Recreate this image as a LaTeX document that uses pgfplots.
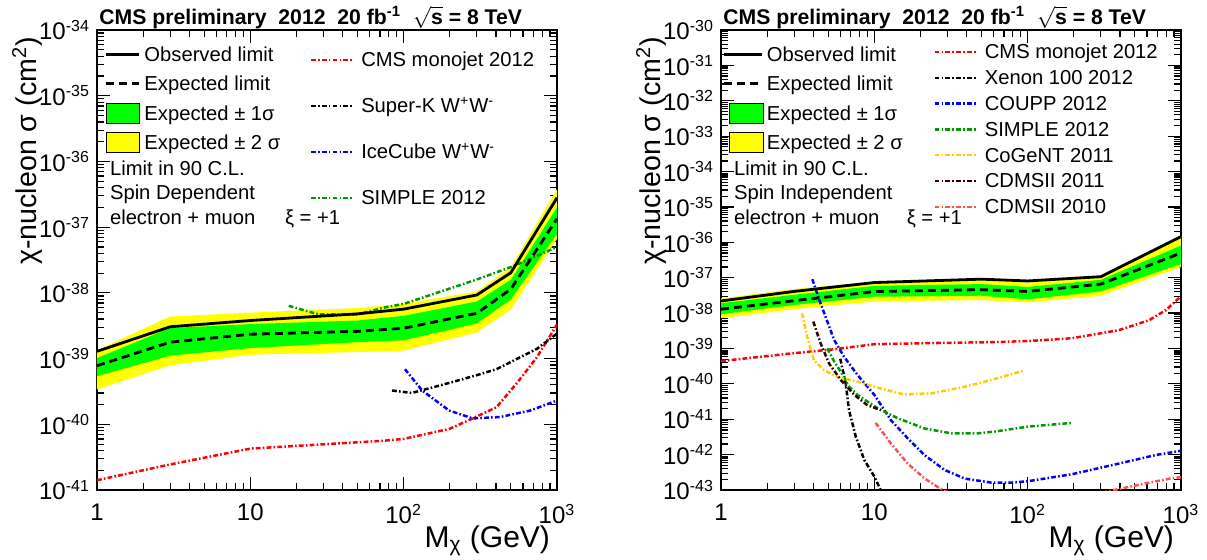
\documentclass[border=0pt]{standalone}
\usepackage{fontspec}
\setmainfont{Liberation Sans}
\usepackage{pgfplots}
\pgfplotsset{compat=1.18}

\definecolor{rootgreen}{RGB}{0,255,0}
\definecolor{rootyellow}{RGB}{255,255,0}
\definecolor{simplegreen}{RGB}{0,153,0}
\definecolor{cogent}{RGB}{255,204,0}
\definecolor{cdmsold}{RGB}{51,0,0}
\definecolor{cdmsnew}{RGB}{255,80,80}

\newcommand{\lfont}{\fontsize{10.1}{11}\selectfont}
\tikzset{dd/.style={line width=1.25pt, dash pattern=on 2.4pt off 1.1pt on 0.8pt off 1.1pt}}
\pgfplotsset{
  lineA/.style={legend image code/.code={\draw[##1] (0pt,3.5pt) -- (16.3pt,3.5pt); \path (18.5pt,0pt);}},
  boxA/.style={legend image code/.code={\draw[##1] (0pt,-1.5pt) rectangle (16.9pt,8.5pt); \path (18.5pt,0pt);}},
  lineB/.style={legend image code/.code={\draw[##1] (0pt,3.5pt) -- (19pt,3.5pt); \path (21pt,0pt);}},
  boxB/.style={legend image code/.code={\draw[##1] (3pt,-1.5pt) rectangle (19.9pt,8.5pt); \path (21pt,0pt);}},
  lineC/.style={legend image code/.code={\draw[##1] (0pt,3.5pt) -- (21pt,3.5pt); \path (24.5pt,0pt);}},
  every axis title/.style={at={(axis description cs:0,1)}, anchor=base west, yshift=3pt, inner sep=1pt,
    font=\bfseries\fontsize{10.6}{12}\selectfont},
}

\begin{document}
\begin{tikzpicture}
\useasboundingbox (0pt,0pt) rectangle (603.5pt,279.5pt);

% ---------------- spin dependent ----------------
\begin{axis}[xmode=log, ymode=log, scale only axis, width=230pt, height=230pt,
  at={(48.5pt,34.5pt)}, anchor=south west,
  xmin=1, xmax=1000, ymin=1e-41, ymax=1e-34,
  xtick={1,10,100,1000},
  xticklabels={1,10,10\textsuperscript{2},10\textsuperscript{3}},
  ytick={1e-41,1e-40,1e-39,1e-38,1e-37,1e-36,1e-35,1e-34},
  yticklabels={10\textsuperscript{-41},10\textsuperscript{-40},10\textsuperscript{-39},10\textsuperscript{-38},
    10\textsuperscript{-37},10\textsuperscript{-36},10\textsuperscript{-35},10\textsuperscript{-34}},
  axis line style={line width=1pt},
  major tick length=6.5pt, minor tick length=3.5pt,
  tick style={black, line width=0.6pt},
  tick label style={font=\fontsize{12}{13}\selectfont},
  xticklabel style={yshift=-3.5pt},
  xlabel={M\textsubscript{χ} (GeV)},
  xlabel style={font=\fontsize{15}{18}\selectfont, at={(axis description cs:1,0)}, anchor=base east, yshift=-28.5pt},
  ylabel={χ-nucleon σ (cm\textsuperscript{2})},
  ylabel style={font=\fontsize{14.3}{17}\selectfont, at={(axis description cs:-0.103,1)}, anchor=south east},
  title={CMS preliminary\ \ 2012\ \ 20 fb\textsuperscript{-1}\ \ $\sqrt{\mbox{s}}$ = 8 TeV},
  legend cell align=left,
  legend style={at={(0.0167,0.968)}, draw=none, fill=none, inner sep=0pt, outer sep=0pt, anchor=north west,
    font=\lfont, row sep=4pt,
    nodes={inner sep=0pt, text height=8.5pt, text depth=2pt, anchor=base west}},
]
% +-2 sigma band (upper edge, then lower edge backwards)
\addplot[fill=rootyellow, draw=none, forget plot] coordinates {(1,1.35e-39) (3,4.37e-39) (10,5.0e-39) (50,5.9e-39) (100,6.8e-39) (300,1.05e-38) (500,2.45e-38) (1000,3.8e-37)
  (1000,6.6e-38) (500,5.6e-39) (300,2.5e-39) (100,1.32e-39) (50,1.26e-39) (10,1.15e-39) (3,7.9e-40) (1,3.4e-40)} -- cycle;
% +-1 sigma band
\addplot[fill=rootgreen, draw=none, forget plot] coordinates {(1,1.02e-39) (3,2.92e-39) (10,3.35e-39) (50,3.8e-39) (100,4.47e-39) (300,7.4e-39) (500,1.58e-38) (1000,2.0e-37)
  (1000,7.9e-38) (500,7.9e-39) (300,3.43e-39) (100,1.9e-39) (50,1.78e-39) (10,1.45e-39) (3,1.11e-39) (1,5.4e-40)} -- cycle;

% CMS monojet 2012
\addplot[red, dd, forget plot] coordinates {(1,1.41e-41) (3,2.45e-41) (10,4.27e-41) (72,5.6e-41) (100,6.0e-41) (198,8.5e-41) (269,1.17e-40) (403,1.82e-40) (546,4.2e-40) (740,1.05e-39) (1000,3.3e-39)};
% Super-K
\addplot[black, dd, forget plot] coordinates {(84,3.27e-40) (113,3.0e-40) (208,4.4e-40) (300,5.6e-40) (403,6.9e-40) (740,1.41e-39) (1000,2.4e-39)};
% IceCube
\addplot[blue, dd, forget plot] coordinates {(102,6.9e-40) (132,3.27e-40) (198,1.62e-40) (282,1.23e-40) (424,1.29e-40) (669,1.62e-40) (1000,2.3e-40)};
% SIMPLE 2012
\addplot[simplegreen, dd, forget plot] coordinates {(17.8,6.35e-39) (28,4.7e-39) (50,4.7e-39) (75,6.0e-39) (100,6.8e-39) (300,1.6e-38) (530,2.6e-38) (1000,5.0e-38)};

\addplot[black, line width=1.4pt, forget plot] coordinates {(1,1.29e-39) (3,3.05e-39) (10,3.8e-39) (50,4.8e-39) (100,5.66e-39) (300,9.3e-39) (500,2.03e-38) (1000,2.8e-37)};
\addplot[black, line width=1.4pt, dash pattern=on 4pt off 2.5pt, forget plot] coordinates {(1,7.8e-40) (3,1.78e-39) (10,2.35e-39) (50,2.6e-39) (100,2.9e-39) (300,4.9e-39) (500,1.14e-38) (1000,1.35e-37)};

\addlegendimage{black, line width=1.4pt, lineA}
\addlegendimage{black, line width=1.4pt, dash pattern=on 4pt off 2.5pt, lineA}
\addlegendimage{fill=rootgreen, draw=black, line width=0.5pt, boxA}
\addlegendimage{fill=rootyellow, draw=black, line width=0.5pt, boxA}
\legend{Observed limit, Expected limit, Expected ± 1σ, Expected ± 2 σ}

\node[anchor=base west, font=\lfont, inner sep=0pt] at (rel axis cs:0.0275,0.683) {Limit in 90 C.L.};
\node[anchor=base west, font=\lfont, inner sep=0pt] at (rel axis cs:0.0275,0.631) {Spin Dependent};
\node[anchor=base west, font=\lfont, inner sep=0pt] at (rel axis cs:0.0275,0.577) {electron + muon};
\node[anchor=base west, font=\lfont, inner sep=0pt] at (rel axis cs:0.408,0.577) {ξ = +1};
\end{axis}

\begin{axis}[scale only axis, width=230pt, height=230pt, at={(48.5pt,34.5pt)}, anchor=south west,
  xmode=log, ymode=log, xmin=1, xmax=1000, ymin=1e-41, ymax=1e-34, hide axis,
  legend cell align=left,
  legend style={at={(0.4625,0.957)}, draw=none, fill=none, inner sep=0pt, outer sep=0pt, anchor=north west,
    font=\lfont, row sep=12.5pt,
    nodes={inner sep=0pt, text height=8.5pt, text depth=2pt, anchor=base west}},
]
\addlegendimage{red, dd, lineC}
\addlegendimage{black, dd, lineC}
\addlegendimage{blue, dd, lineC}
\addlegendimage{simplegreen, dd, lineC}
\legend{CMS monojet 2012, Super-K W\textsuperscript{+}W\textsuperscript{-}, IceCube W\textsuperscript{+}W\textsuperscript{-}, SIMPLE 2012}
\end{axis}

% ---------------- spin independent ----------------
\begin{axis}[xmode=log, ymode=log, scale only axis, width=230pt, height=230pt,
  at={(360.5pt,34.5pt)}, anchor=south west,
  xmin=1, xmax=1000, ymin=1e-43, ymax=1e-30,
  xtick={1,10,100,1000},
  xticklabels={1,10,10\textsuperscript{2},10\textsuperscript{3}},
  ytick={1e-43,1e-42,1e-41,1e-40,1e-39,1e-38,1e-37,1e-36,1e-35,1e-34,1e-33,1e-32,1e-31,1e-30},
  yticklabels={10\textsuperscript{-43},10\textsuperscript{-42},10\textsuperscript{-41},10\textsuperscript{-40},
    10\textsuperscript{-39},10\textsuperscript{-38},10\textsuperscript{-37},10\textsuperscript{-36},
    10\textsuperscript{-35},10\textsuperscript{-34},10\textsuperscript{-33},10\textsuperscript{-32},
    10\textsuperscript{-31},10\textsuperscript{-30}},
  axis line style={line width=1pt},
  major tick length=6.5pt, minor tick length=3.5pt,
  tick style={black, line width=0.6pt},
  tick label style={font=\fontsize{12}{13}\selectfont},
  xticklabel style={yshift=-3.5pt},
  xlabel={M\textsubscript{χ} (GeV)},
  xlabel style={font=\fontsize{15}{18}\selectfont, at={(axis description cs:1,0)}, anchor=base east, yshift=-28.5pt},
  ylabel={χ-nucleon σ (cm\textsuperscript{2})},
  ylabel style={font=\fontsize{14.3}{17}\selectfont, at={(axis description cs:-0.103,1)}, anchor=south east},
  title={CMS preliminary\ \ 2012\ \ 20 fb\textsuperscript{-1}\ \ $\sqrt{\mbox{s}}$ = 8 TeV},
  legend cell align=left,
  legend style={at={(0.0025,0.968)}, draw=none, fill=none, inner sep=0pt, outer sep=0pt, anchor=north west,
    font=\lfont, row sep=4pt,
    nodes={inner sep=0pt, text height=8.5pt, text depth=2pt, anchor=base west}},
]
\addplot[fill=rootyellow, draw=none, forget plot] coordinates {(1,2.6e-38) (3,4.8e-38) (10,7.8e-38) (50,8.5e-38) (100,7.2e-38) (300,1.12e-37) (1000,1.5e-36)
  (1000,2.0e-37) (300,3.1e-38) (100,2.0e-38) (50,2.34e-38) (10,2.14e-38) (3,1.29e-38) (1,7.2e-39)} -- cycle;
\addplot[fill=rootgreen, draw=none, forget plot] coordinates {(1,1.9e-38) (3,3.3e-38) (10,5.9e-38) (50,6.6e-38) (100,5.5e-38) (300,8.7e-38) (1000,8.1e-37)
  (1000,2.45e-37) (300,4.1e-38) (100,2.45e-38) (50,3.1e-38) (10,2.9e-38) (3,1.7e-38) (1,9.3e-39)} -- cycle;

% CMS monojet 2012
\addplot[red, dd, forget plot] coordinates {(1,4.4e-40) (2.84,7.2e-40) (5.47,9.5e-40) (10,1.32e-39) (21,1.41e-39) (58,1.51e-39) (101,1.62e-39) (195,1.95e-39) (394,3.3e-39) (620,6.3e-39) (800,1.23e-38) (1000,3.0e-38)};
% Xenon 100 2012
\addplot[black, dd, forget plot] coordinates {(6.0,5.1e-40) (6.5,1.05e-40) (6.84,1.8e-41) (7.57,3.2e-42) (8.6,7.1e-43) (10.0,2.4e-43) (11.0,1.0e-43) (11.5,7e-44)};
% COUPP 2012
\addplot[blue, dd, forget plot] coordinates {(3.94,9.1e-38) (4.42,2.1e-38) (5.47,1.74e-39) (6.34,5.9e-40) (7.77,1.78e-40) (10.0,4.9e-41) (12.8,9.5e-42) (16.5,2.9e-42) (21.2,9.8e-43) (28.7,3.7e-43) (38.9,2.1e-43) (58,1.62e-43) (78.6,1.62e-43) (101,1.78e-43) (195,2.8e-43) (394,5.6e-43) (688,9.8e-43) (1000,1.29e-42)};
% SIMPLE 2012
\addplot[simplegreen, dd, forget plot] coordinates {(4.94,1.01e-39) (5.47,4.3e-40) (6.04,2.2e-40) (6.85,8.3e-41) (7.77,4.9e-41) (10.5,2.04e-41) (14.2,1.07e-41) (21.2,5.5e-42) (31.8,4.0e-42) (47.5,4.0e-42) (61.3,4.5e-42) (101,6.2e-42) (195,7.9e-42)};
% CoGeNT 2011
\addplot[cogent, dd, forget plot] coordinates {(3.38,9.8e-39) (3.65,2.14e-39) (4.03,4.7e-40) (4.69,2.45e-40) (5.74,1.58e-40) (7.77,1.15e-40) (11.0,7.4e-41) (15.7,5.0e-41) (23.5,5.4e-41) (38.9,8.3e-41) (58,1.29e-40) (94,2.34e-40)};
% CDMSII 2011
\addplot[cdmsold, dd, forget plot] coordinates {(4.0,5.75e-39) (4.46,1.41e-39) (5.06,3.8e-40) (6.04,1.29e-40) (7.4,4.9e-41) (9.0,2.5e-41) (11.0,1.82e-41)};
% CDMSII 2010
\addplot[cdmsnew, dd, forget plot] coordinates {(10.2,7.9e-42) (12.8,2.1e-42) (16.5,5.6e-43) (21.2,2.14e-43) (26.7,1.12e-43) (35,6e-44) (80,3.5e-44) (200,5.5e-44) (366,1.0e-43) (563,1.48e-43) (862,2.14e-43) (1000,2.3e-43)};

\addplot[black, line width=1.4pt, forget plot] coordinates {(1,2.2e-38) (3,4.1e-38) (10,7.3e-38) (50,9.1e-38) (100,8.1e-38) (300,1.07e-37) (1000,1.45e-36)};
\addplot[black, line width=1.4pt, dash pattern=on 4pt off 2.5pt, forget plot] coordinates {(1,1.29e-38) (3,2.24e-38) (10,4.07e-38) (50,4.6e-38) (100,4.1e-38) (300,6.6e-38) (1000,5.0e-37)};

\addlegendimage{black, line width=1.4pt, lineB}
\addlegendimage{black, line width=1.4pt, dash pattern=on 4pt off 2.5pt, lineB}
\addlegendimage{fill=rootgreen, draw=black, line width=0.5pt, boxB}
\addlegendimage{fill=rootyellow, draw=black, line width=0.5pt, boxB}
\legend{Observed limit, Expected limit, Expected ± 1σ, Expected ± 2 σ}

\node[anchor=base west, font=\lfont, inner sep=0pt] at (rel axis cs:0.0275,0.683) {Limit in 90 C.L.};
\node[anchor=base west, font=\lfont, inner sep=0pt] at (rel axis cs:0.0275,0.631) {Spin Independent};
\node[anchor=base west, font=\lfont, inner sep=0pt] at (rel axis cs:0.0275,0.577) {electron + muon};
\node[anchor=base west, font=\lfont, inner sep=0pt] at (rel axis cs:0.403,0.577) {ξ = +1};
\end{axis}

\begin{axis}[scale only axis, width=230pt, height=230pt, at={(360.5pt,34.5pt)}, anchor=south west,
  xmode=log, ymode=log, xmin=1, xmax=1000, ymin=1e-43, ymax=1e-30, hide axis,
  legend cell align=left,
  legend style={at={(0.4616,0.974)}, draw=none, fill=none, inner sep=0pt, outer sep=0pt, anchor=north west,
    font=\lfont, row sep=2.4pt,
    nodes={inner sep=0pt, text height=8.5pt, text depth=2pt, anchor=base west}},
]
\addlegendimage{red, dd, lineC}
\addlegendimage{black, dd, lineC}
\addlegendimage{blue, dd, lineC}
\addlegendimage{simplegreen, dd, lineC}
\addlegendimage{cogent, dd, lineC}
\addlegendimage{cdmsold, dd, lineC}
\addlegendimage{cdmsnew, dd, lineC}
\legend{CMS monojet 2012, Xenon 100 2012, COUPP 2012, SIMPLE 2012, CoGeNT 2011, CDMSII 2011, CDMSII 2010}
\end{axis}
\end{tikzpicture}
\end{document}
